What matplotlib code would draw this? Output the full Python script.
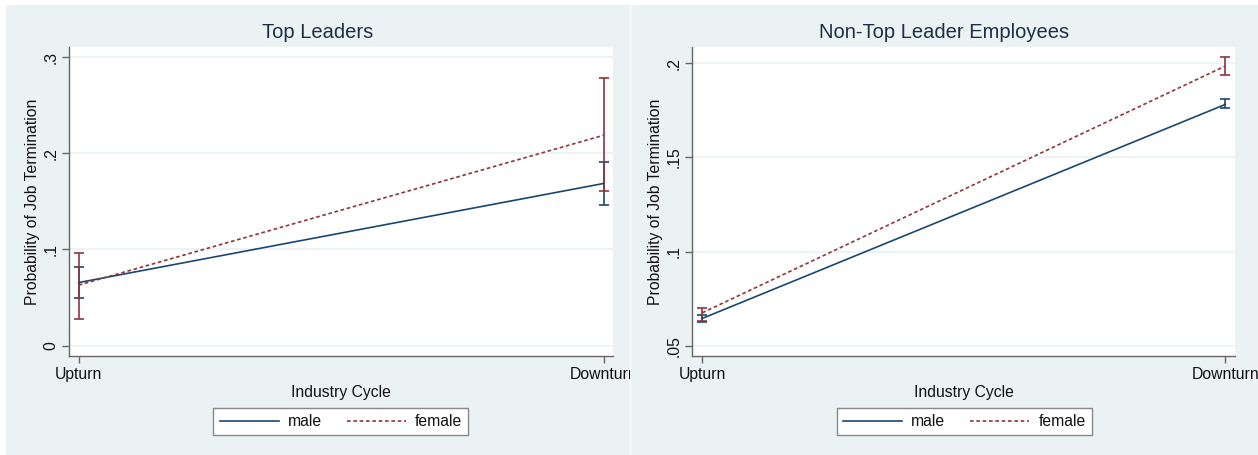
import matplotlib
matplotlib.use("Agg")
import matplotlib.pyplot as plt
from matplotlib.patches import Rectangle
from matplotlib.transforms import Bbox, TransformedBbox

plt.rcParams['font.family'] = ['Liberation Sans', 'DejaVu Sans']

categories = ["Upturn", "Downturn"]
titles = ["Top Leaders", "Non-Top Leader Employees"]

# Top Leaders
tl_male = [0.0656, 0.1686]
tl_male_lo = [0.0497, 0.1460]
tl_male_hi = [0.0816, 0.1910]
tl_female = [0.0630, 0.2187]
tl_female_lo = [0.0277, 0.1606]
tl_female_hi = [0.0967, 0.2780]

# Non-Top Leader Employees
nt_male = [0.0645, 0.1782]
nt_male_lo = [0.0627, 0.1761]
nt_male_hi = [0.0663, 0.1810]
nt_female = [0.0675, 0.1986]
nt_female_lo = [0.0632, 0.1938]
nt_female_hi = [0.0701, 0.2035]

tl_yticks = [0, 0.1, 0.2, 0.3]
tl_yticklabels = ["0", ".1", ".2", ".3"]
nt_yticks = [0.05, 0.10, 0.15, 0.20]
nt_yticklabels = [".05", ".1", ".15", ".2"]

MALE = "#1a476f"
FEMALE = "#90353b"
BG = "#eaf2f3"
TXT = "#111111"
FS = 11.3

W, H = 1258, 455
fig = plt.figure(figsize=(W / 100, H / 100), dpi=100)
fig.patch.set_facecolor("white")

panel_boxes = [(6, 630), (631, W)]
for x0, x1 in panel_boxes:
    fig.patches.append(Rectangle((x0 / W, 0), (x1 - x0) / W, 1 - 5 / H,
                                 transform=fig.transFigure, facecolor=BG,
                                 edgecolor="none", zorder=-10))

panels = [
    dict(pos=[69.3 / W, 1 - 355.7 / H, (613 - 69.3) / W, (355.7 - 47) / H],
         xlim=(-0.0179, 1.0177), ylim=(-0.0104, 0.3104),
         male=(tl_male, tl_male_lo, tl_male_hi), female=(tl_female, tl_female_lo, tl_female_hi),
         yt=tl_yticks, ytl=tl_yticklabels, title=titles[0], leg=(340.7, 421.7), clip=(6, 630)),
    dict(pos=[692.3 / W, 1 - 355.7 / H, (1235 - 692.3) / W, (355.7 - 47) / H],
         xlim=(-0.0191, 1.0185), ylim=(0.0447, 0.2087),
         male=(nt_male, nt_male_lo, nt_male_hi), female=(nt_female, nt_female_lo, nt_female_hi),
         yt=nt_yticks, ytl=nt_yticklabels, title=titles[1], leg=(964.5, 421.5), clip=(631, W)),
]

x = list(range(len(categories)))
for p in panels:
    ax = fig.add_axes(p["pos"])
    ax.set_facecolor("white")
    ax.set_xlim(*p["xlim"])
    ax.set_ylim(*p["ylim"])
    for yv in p["yt"]:
        ax.axhline(yv, color=BG, lw=1.2, zorder=1)
    handles = []
    for (vals, lo, hi), col, ls, lab in [(p["male"], MALE, "-", "male"),
                                          (p["female"], FEMALE, (0, (2.2, 1.6)), "female")]:
        yerr = [[v - l for v, l in zip(vals, lo)], [h - v for v, h in zip(vals, hi)]]
        ax.errorbar(x, vals, yerr=yerr, fmt="none", ecolor=col, elinewidth=1.2,
                    capsize=3.5, capthick=1.2, zorder=3)
        ln, = ax.plot(x, vals, color=col, lw=1.2, linestyle=ls, label=lab, zorder=4)
        handles.append(ln)
    for s in ["top", "right"]:
        ax.spines[s].set_visible(False)
    for s in ["left", "bottom"]:
        ax.spines[s].set_color("#666666")
        ax.spines[s].set_linewidth(1.0)
    ax.set_xticks(x)
    ax.set_xticklabels(categories, fontsize=FS, color=TXT)
    ax.set_yticks(p["yt"])
    ax.set_yticklabels(p["ytl"], fontsize=FS, color=TXT, rotation=90, va="center")
    ax.tick_params(axis="both", color="#666666", length=5, width=1)
    ax.tick_params(axis="x", pad=3)
    ax.tick_params(axis="y", pad=3)
    ax.set_xlabel("Industry Cycle", fontsize=FS, color=TXT, labelpad=2)
    ax.set_ylabel("Probability of Job Termination", fontsize=FS, color=TXT, labelpad=2)
    c0, c1 = p["clip"]
    # title centred on the panel (graph region)
    fig.text((c0 + c1) / 2 / W, 1 - 33 / H, p["title"], fontsize=14.5,
             color="#1e2f45", ha="center", va="center")
    cbox = TransformedBbox(Bbox([[c0 / W, 0], [c1 / W, 1]]), fig.transFigure)
    for lbl in ax.get_xticklabels():
        lbl.set_clip_box(cbox)
        lbl.set_clip_on(True)
    lx, ly = p["leg"]
    leg = fig.legend(handles=handles, labels=["male", "female"], ncol=2,
                     loc="center", bbox_to_anchor=(lx / W, 1 - ly / H),
                     fontsize=FS, frameon=True, fancybox=False, edgecolor="#888888",
                     facecolor="white", framealpha=1.0,
                     handlelength=3.75, columnspacing=1.6, handletextpad=0.57,
                     borderpad=0.4, borderaxespad=0)
    leg.get_frame().set_linewidth(1.0)
    for t in leg.get_texts():
        t.set_color(TXT)

fig.savefig("out.png", dpi=100, facecolor=fig.get_facecolor())
